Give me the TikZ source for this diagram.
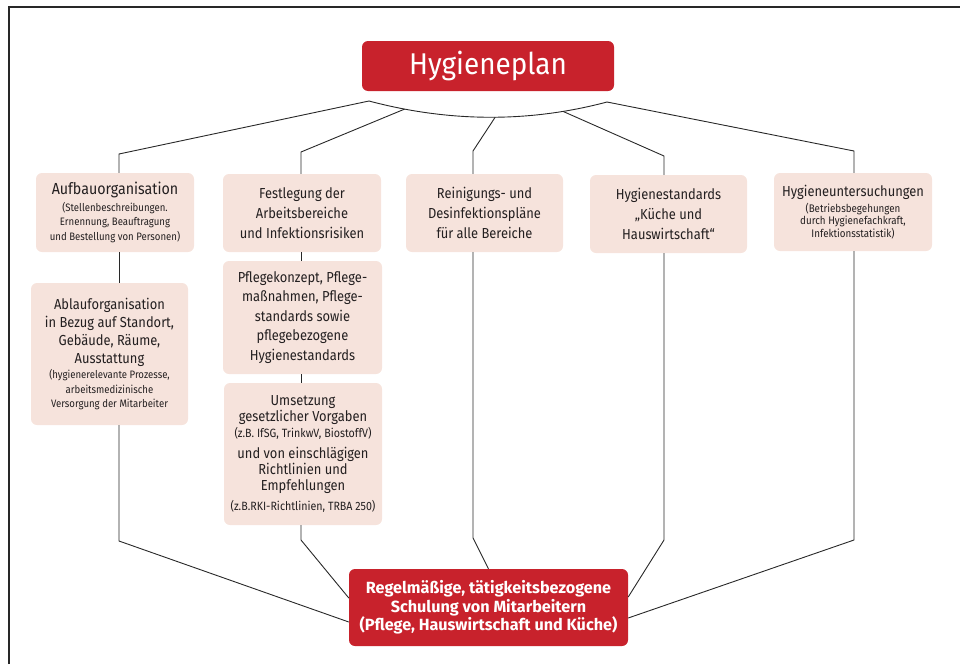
\documentclass[tikz,border=0pt]{standalone}
\usepackage{fontspec}
\setmainfont{Fira Sans}[FakeStretch=0.89]
\newfontfamily\plainfam{Fira Sans}
\newfontfamily\titlefam{Fira Sans}[FakeStretch=0.93]
\definecolor{hred}{RGB}{200,34,44}
\definecolor{hpink}{RGB}{246,227,220}
\definecolor{txt}{RGB}{35,31,32}
\definecolor{lin}{RGB}{40,40,40}
\newcommand\smalltxt{\fontsize{10.8}{14.5}\selectfont}
\newcommand\midtxt{\fontsize{12}{14.5}\selectfont}
\newcommand\tinytxt{\fontsize{11}{12.5}\selectfont}
\newcommand\headtxt{\fontsize{16}{20}\selectfont}
\begin{document}
\begin{tikzpicture}[x=1pt,y=-1pt,
  box/.style={fill=hpink,rounded corners=6pt,inner sep=0pt,align=flush center,text=txt,
    text width=154pt,font=\fontsize{14.5}{20}\selectfont},
  redbox/.style={fill=hred,rounded corners=6pt,inner sep=0pt,align=flush center,text=white},
  conn/.style={draw=lin,line width=0.9pt},
  frame/.style={draw=lin,line width=1.6pt}]
\useasboundingbox (0,0) rectangle (960,664);
\draw[frame] (9,664) -- (9,7) -- (960,7);

% top node
\node[redbox,minimum width=252pt,minimum height=50pt,font=\titlefam\fontsize{30}{34}\selectfont] (plan) at (488,66) {Hygieneplan};

% boxes
\node[box,minimum width=158pt,minimum height=79pt] (aufbau) at (115,212.5)
  {{\headtxt Aufbauorganisation\par}\vspace{2pt}{\smalltxt (Stellenbeschreibungen.\\Ernennung, Beauftragung\\und Bestellung von Personen)\par}};
\node[box,minimum width=157pt,minimum height=142pt,font=\fontsize{14.5}{18}\selectfont] (ablauf) at (109.5,354)
  {Ablauforganisation\\in Bezug auf Standort,\\Gebäude, Räume,\\Ausstattung\par\vspace{1pt}{\smalltxt (hygienerelevante Prozesse,\\arbeitsmedizinische\\Versorgung der Mitarbeiter\par}};
\node[box,minimum width=158pt,minimum height=78pt] (fest) at (302,213)
  {Festlegung der\\Arbeitsbereiche\\und Infektionsrisiken};
\node[box,minimum width=159pt,minimum height=113pt,font=\fontsize{14.5}{19.5}\selectfont] (pflege) at (302.5,317.5)
  {Pflegekonzept, Pflege-\\maßnahmen, Pflege-\\standards sowie\\pflegebezogene\\Hygienestandards};
\node[box,minimum width=158pt,minimum height=142pt,font=\fontsize{14.5}{16}\selectfont] (umsetz) at (303,454)
  {Umsetzung\\gesetzlicher Vorgaben\par\vspace{1pt}{\midtxt (z.B. IfSG, TrinkwV, BiostoffV)\par}\vspace{5pt}und von einschlägigen\\Richtlinien und\\Empfehlungen\par\vspace{6pt}{\midtxt (z.B.RKI-Richtlinien, TRBA 250)\par}};
\node[box,minimum width=157pt,minimum height=78pt] (rein) at (484.5,213)
  {Reinigungs- und\\Desinfektionspläne\\für alle Bereiche};
\node[box,minimum width=157pt,minimum height=78pt] (hstd) at (668.5,214)
  {Hygienestandards\\„Küche und\\Hauswirtschaft“};
\node[box,minimum width=158pt,minimum height=78pt] (hunt) at (853,212)
  {Hygieneuntersuchungen\par\vspace{3pt}{\tinytxt (Betriebsbegehungen\\durch Hygienefachkraft,\\Infektionsstatistik)\par}};

% bottom node
\node[redbox,minimum width=279pt,minimum height=77pt,font=\plainfam\bfseries\fontsize{16.2}{18.5}\selectfont] (schul) at (488.5,607.5)
  {Regelmäßige, tätigkeitsbezogene\\Schulung von Mitarbeitern\\(Pflege, Hauswirtschaft und Küche)};

% arc under the top node
\coordinate (aL) at (369,101);
\coordinate (aR) at (607,102);
\draw[conn] (aL) .. controls (448,122) and (528,123) .. (aR)
  coordinate[pos=0.15] (a2) coordinate[pos=0.53] (a3) coordinate[pos=0.815] (a4);

% bends
\coordinate (b1) at (119,154);
\coordinate (b2) at (301,152);
\coordinate (b3) at (473,151);
\coordinate (b4) at (664,156);
\coordinate (b5) at (854,151);
\coordinate (c1) at (119,541);
\coordinate (c2) at (301,540);
\coordinate (c3) at (473,538);
\coordinate (c4) at (664,540);
\coordinate (c5) at (854,540);
\coordinate (e1) at ([yshift=-14.5pt]schul.west);
\coordinate (e2) at ([yshift=9.5pt]schul.west);
\coordinate (e3) at (schul.north);
\coordinate (e4) at ([yshift=10.5pt]schul.east);
\coordinate (e5) at ([yshift=-10.5pt]schul.east);

% top connectors
\draw[conn] (aL) -- (b1) -- (b1 |- aufbau.north);
\draw[conn] (a2) -- (b2) -- (b2 |- fest.north);
\draw[conn] (a3) -- (b3) -- (b3 |- rein.north);
\draw[conn] (a4) -- (b4) -- (b4 |- hstd.north);
\draw[conn] (aR) -- (b5) -- (b5 |- hunt.north);

% between stacked boxes
\draw[conn] (b1 |- aufbau.south) -- (b1 |- ablauf.north);
\draw[conn] (b2 |- fest.south) -- (b2 |- pflege.north);
\draw[conn] (b2 |- pflege.south) -- (b2 |- umsetz.north);

% bottom connectors
\draw[conn] (b1 |- ablauf.south) -- (c1) -- (e1);
\draw[conn] (b2 |- umsetz.south) -- (c2) -- (e2);
\draw[conn] (b3 |- rein.south) -- (c3) -- (e3);
\draw[conn] (b4 |- hstd.south) -- (c4) -- (e4);
\draw[conn] (b5 |- hunt.south) -- (c5) -- (e5);
\end{tikzpicture}
\end{document}
